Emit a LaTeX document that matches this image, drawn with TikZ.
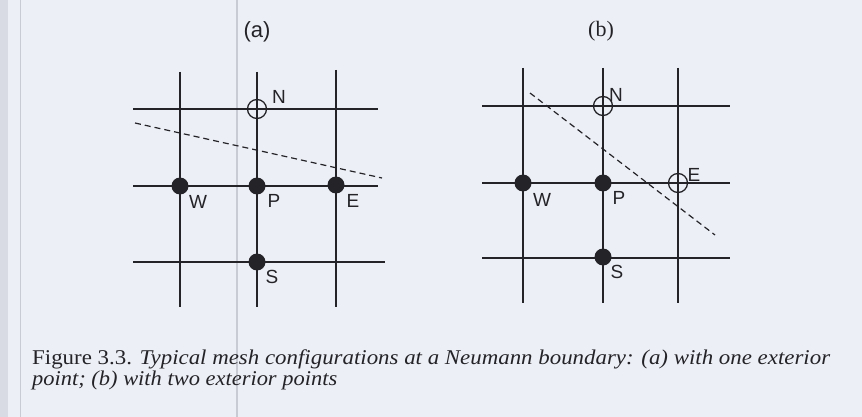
\documentclass[tikz,border=0pt]{standalone}
\usepackage{fontspec}
\setmainfont{Liberation Serif}
\setsansfont{Liberation Sans}
\definecolor{paper}{RGB}{237,239,246}
\definecolor{gutter}{RGB}{216,219,228}
\definecolor{ink}{RGB}{35,35,40}
\definecolor{fold}{RGB}{200,203,212}
\begin{document}
\begin{tikzpicture}[x=1pt,y=-1pt,
  gridline/.style={draw=ink,line width=1.3pt},
  boundary/.style={draw=ink,line width=1.2pt,dash pattern=on 6pt off 4pt},
  interior/.style={circle,fill=ink,minimum size=17pt,inner sep=0pt},
  exterior/.style={circle,draw=ink,line width=1.3pt,minimum size=19pt,inner sep=0pt},
  lbl/.style={font=\sffamily\fontsize{19}{19}\selectfont,text=ink,inner sep=0pt},
  panel/.style={text=ink,inner sep=0pt},
  captext/.style={font=\fontsize{21}{21}\selectfont,text=ink,inner sep=0pt,anchor=base west}]
\useasboundingbox (0,0) rectangle (862,417);
\fill[paper] (0,0) rectangle (862,417);
\fill[gutter] (0,0) rectangle (8,417);
\draw[fold,line width=0.8pt] (20,0) -- (20,417);
\draw[fold,line width=2pt] (237,0) -- (237,417);

% ---------- panel (a) ----------
\node[panel,font=\sffamily\fontsize{22}{22}\selectfont] (alabel) at (257,32) {(a)};
\draw[gridline] (180,72) -- (180,307);
\draw[gridline] (257,72) -- (257,307);
\draw[gridline] (336,70) -- (336,307);
\draw[gridline] (133,109) -- (378,109);
\draw[gridline] (133,186) -- (378,186);
\draw[gridline] (133,262) -- (385,262);
\coordinate (ab1) at (135,123);
\coordinate (ab2) at (382,178);
\draw[boundary] (ab1) -- (ab2);
\node[exterior] (aN) at (257,109) {};
\node[interior] (aW) at (180,186) {};
\node[interior] (aP) at (257,186) {};
\node[interior] (aE) at (336,185) {};
\node[interior] (aS) at (257,262) {};
\node[lbl] (aNl) at (279,97) {N};
\node[lbl] (aWl) at (198,202) {W};
\node[lbl] (aPl) at (274,201) {P};
\node[lbl] (aEl) at (353,201) {E};
\node[lbl] (aSl) at (272,277) {S};

% ---------- panel (b) ----------
\node[panel,font=\fontsize{22}{22}\selectfont] (blabel) at (601,31) {(b)};
\draw[gridline] (523,68) -- (523,303);
\draw[gridline] (603,68) -- (603,303);
\draw[gridline] (678,68) -- (678,303);
\draw[gridline] (482,106) -- (730,106);
\draw[gridline] (482,183) -- (730,183);
\draw[gridline] (482,258) -- (730,258);
\coordinate (bb1) at (530,93);
\coordinate (bb2) at (715,235);
\draw[boundary] (bb1) -- (bb2);
\node[exterior] (bN) at (603,106) {};
\node[exterior] (bE) at (678,183) {};
\node[interior] (bW) at (523,183) {};
\node[interior] (bP) at (603,183) {};
\node[interior] (bS) at (603,257) {};
\node[lbl] (bNl) at (616,95) {N};
\node[lbl] (bWl) at (542,200) {W};
\node[lbl] (bPl) at (619,198) {P};
\node[lbl] (bEl) at (694,175) {E};
\node[lbl] (bSl) at (617,272) {S};

% ---------- caption ----------
\node[captext] (cap1) at (32,364) {\resizebox{798pt}{\height}{Figure 3.3. \textit{Typical mesh configurations at a Neumann boundary: (a) with one exterior}}};
\node[captext] (cap2) at (32,385) {\resizebox{305pt}{\height}{\textit{point; (b) with two exterior points}}};
\end{tikzpicture}
\end{document}
